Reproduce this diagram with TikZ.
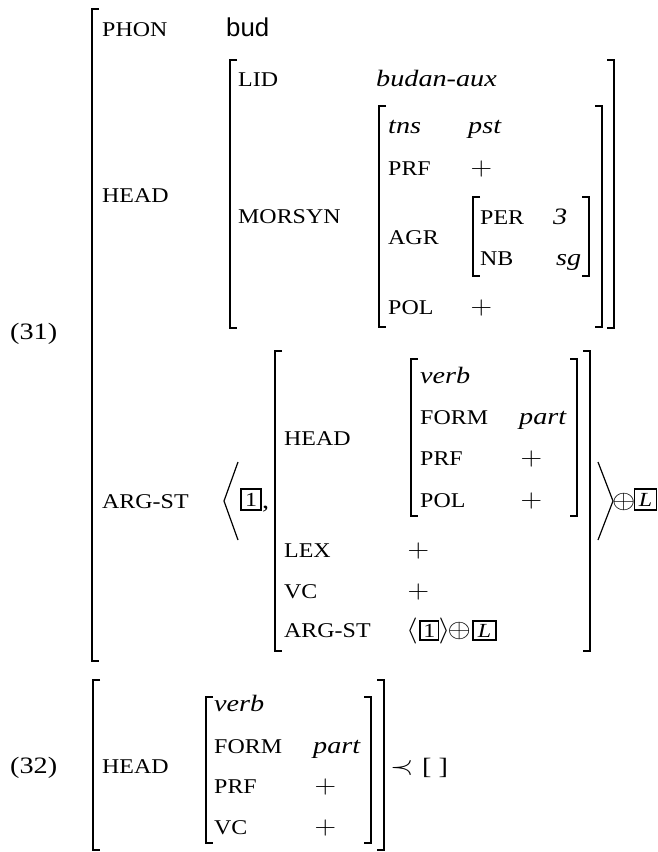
\documentclass[tikz,border=0pt]{standalone}
\usepackage{fix-cm}
\usepackage[no-math]{fontspec}
\setmainfont{Liberation Serif}[FakeStretch=1.2]
\newfontfamily\attrfont{Liberation Serif}[FakeStretch=1.14]
\newfontfamily\valfont{Liberation Serif Italic}[FakeStretch=1.2]
\newfontfamily\budfont{Liberation Sans}
\newcommand\avmLeft[3]{\draw[brk] (#1+7,#2) -- (#1,#2) -- (#1,#3) -- (#1+7,#3);}
\newcommand\avmRight[3]{\draw[brk] (#1-7,#2) -- (#1,#2) -- (#1,#3) -- (#1-7,#3);}
\newcommand\wide[1]{\scalebox{1.15}[1]{#1}}
\begin{document}
\begin{tikzpicture}[x=1pt,y=-1pt,
  attr/.style={anchor=base west, inner sep=0pt, font=\attrfont\fontsize{21}{25}\selectfont},
  val/.style={anchor=base west, inner sep=0pt, font=\valfont\fontsize{23.5}{28}\selectfont},
  rmtext/.style={anchor=base west, inner sep=0pt, font=\fontsize{23.5}{28}\selectfont},
  mathsym/.style={anchor=base west, inner sep=0pt, font=\fontsize{26}{30}\selectfont},
  budtext/.style={anchor=base west, inner sep=0pt, font=\budfont\fontsize{25.8}{30}\selectfont},
  brk/.style={line width=1.4pt},
  angl/.style={line width=1.2pt},
  tagbox/.style={draw, line width=1.3pt, inner sep=0pt, font=\fontsize{20}{24}\selectfont}]
\useasboundingbox (0,0) rectangle (658,852);

% ---------- (31)
\node[rmtext] (n31) at (10,339) {(31)};
\avmLeft{92}{9}{661}
\node[attr] (phon) at (102,36) {PHON};
\node[budtext] (bud) at (226,36) {bud};
\node[attr] (head1) at (102,202) {HEAD};
\avmLeft{230}{60}{328}
\avmRight{614}{60}{328}
\node[attr] (lid) at (238,86) {LID};
\node[val] (lidv) at (376,86) {budan-aux};
\node[attr] (morsyn) at (238,223) {MORSYN};
\avmLeft{379}{106}{327}
\avmRight{602}{106}{327}
\node[val] (tns) at (388,133) {tns};
\node[val] (pst) at (468,133) {pst};
\node[attr] (prf1) at (388,175) {PRF};
\node[mathsym] (prf1v) at (470.5,175) {\wide{$+$}};
\node[attr] (agr) at (388,244) {AGR};
\avmLeft{473}{197}{276}
\avmRight{589}{197}{276}
\node[attr] (per) at (480,224) {PER};
\node[val] (perv) at (553,224) {3};
\node[attr] (nb) at (480,265) {NB};
\node[val] (nbv) at (556,265) {sg};
\node[attr] (pol1) at (388,314) {POL};
\node[mathsym] (pol1v) at (470.5,314) {\wide{$+$}};

% ARG-ST
\node[attr] (argst) at (102,508) {ARG-ST};
\draw[angl] (238,462) -- (224,501) -- (238,540);
\node[tagbox, minimum width=20pt, minimum height=21pt] (tag1) at (251,499.5) {1};
\node[rmtext] (comma) at (262,508) {,};
\avmLeft{275}{351}{651}
\avmRight{590}{351}{651}
\node[attr] (head2) at (284,445) {HEAD};
\avmLeft{411}{359}{516}
\avmRight{577}{359}{516}
\node[val] (verb2) at (420,383) {verb};
\node[attr] (form2) at (420,424) {FORM};
\node[val] (part2) at (519,424) {part};
\node[attr] (prf2) at (420,465) {PRF};
\node[mathsym] (prf2v) at (520.5,465) {\wide{$+$}};
\node[attr] (pol2) at (420,507) {POL};
\node[mathsym] (pol2v) at (520.5,507) {\wide{$+$}};
\node[attr] (lex) at (284,557) {LEX};
\node[mathsym] (lexv) at (407.5,557) {\wide{$+$}};
\node[attr] (vc2) at (284,598) {VC};
\node[mathsym] (vc2v) at (407.5,598) {\wide{$+$}};
\node[attr] (argst2) at (284,637) {ARG-ST};
\node[mathsym] (la2) at (406,637) {\wide{$\langle$}};
\node[tagbox, minimum width=18.5pt, minimum height=19pt] (tag1b) at (429.25,630.5) {1};
\node[mathsym] (ra2) at (438.5,637) {\wide{$\rangle$}};
\node[mathsym] (op2) at (447.5,637) {\wide{$\oplus$}};
\node[tagbox, minimum width=23pt, minimum height=19pt] (tagLb) at (484.5,630.5) {\itshape L};
\draw[angl] (598,462) -- (613,501) -- (598,540);
\node[mathsym] (op1) at (612,508) {\wide{$\oplus$}};
\node[tagbox, minimum width=22pt, minimum height=21pt] (tagL) at (645.5,499.5) {\itshape L};

% ---------- (32)
\node[rmtext] (n32) at (10,773) {(32)};
\avmLeft{93}{680}{850}
\avmRight{384}{680}{850}
\node[attr] (head3) at (102,773) {HEAD};
\avmLeft{206}{697}{843}
\avmRight{371}{697}{843}
\node[val] (verb3) at (214,711) {verb};
\node[attr] (form3) at (214,753) {FORM};
\node[val] (part3) at (313,753) {part};
\node[attr] (prf3) at (214,793) {PRF};
\node[mathsym] (prf3v) at (314.5,793) {\wide{$+$}};
\node[attr] (vc3) at (214,834) {VC};
\node[mathsym] (vc3v) at (314.5,834) {\wide{$+$}};
\node[mathsym] (prec) at (390,774) {\wide{$\prec$}};
\node[rmtext] (emptyavm) at (422,774) {[ ]};
\end{tikzpicture}
\end{document}
